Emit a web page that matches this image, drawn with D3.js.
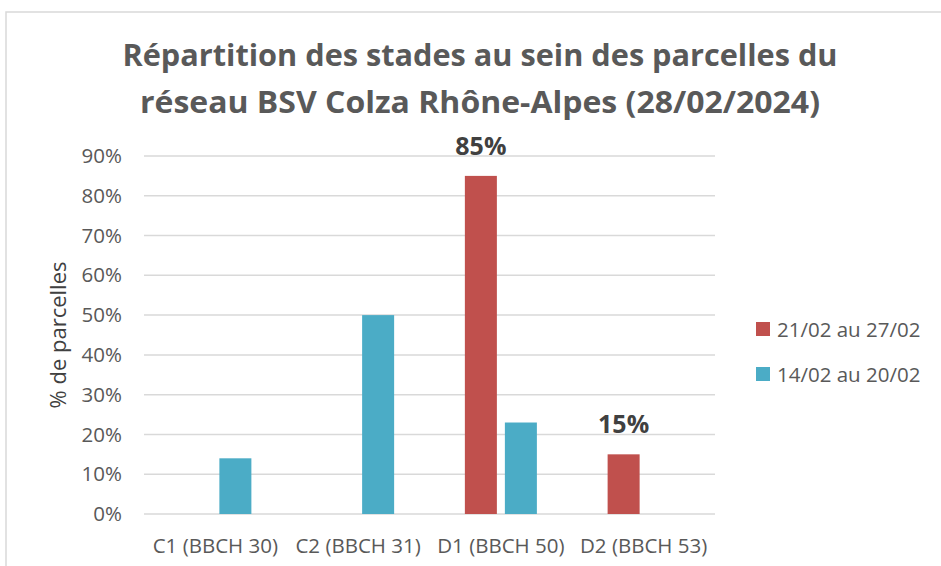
<!DOCTYPE html>
<html>
<head>
<meta charset="utf-8">
<script src="https://cdn.jsdelivr.net/npm/d3@7"></script>
<style>
  body { margin: 0; background: #fff; }
  text { font-family: "Open Sans", sans-serif; }
</style>
</head>
<body>
<div id="chart"></div>
<script>
// Data
var categories = ["C1 (BBCH 30)", "C2 (BBCH 31)", "D1 (BBCH 50)", "D2 (BBCH 53)"];
var seriesNames = ["21/02 au 27/02", "14/02 au 20/02"];
var seriesColors = ["#c0504d", "#4bacc6"];
var week2 = [null, null, 0.85, 0.15];   // 21/02 au 27/02
var week1 = [0.14, 0.50, 0.23, null];   // 14/02 au 20/02
var labelled = [false, false, true, true]; // data labels shown on the red series only
var yTicks = [0, 0.1, 0.2, 0.3, 0.4, 0.5, 0.6, 0.7, 0.8, 0.9];
var titleLines = ["Répartition des stades au sein des parcelles du",
                  "réseau BSV Colza Rhône-Alpes (28/02/2024)"];

var svgWidth = 941, svgHeight = 566;
var margin = {left: 144, right: 226, top: 156, bottom: 52};
var width = svgWidth - margin.left - margin.right,
    height = svgHeight - margin.top - margin.bottom;

var font = "'Open Sans', sans-serif";

var svg = d3.select("#chart").append("svg")
    .attr("width", svgWidth)
    .attr("height", svgHeight);

// chart frame
svg.append("rect")
    .attr("x", 6).attr("y", 12)
    .attr("width", 960).attr("height", 600)
    .attr("fill", "none")
    .attr("stroke", "#d9d9d9")
    .attr("stroke-width", 1.5);

var g = svg.append("g")
    .attr("transform", `translate(${margin.left}, ${margin.top})`);

// scales
var x0 = d3.scaleBand().domain(categories).range([0, width]);
var x1 = d3.scaleBand().domain(seriesNames).range([0, x0.bandwidth()])
    .paddingInner(0.2).paddingOuter(0.884);
var y = d3.scaleLinear().domain([0, 0.9]).range([height, 0]);

// gridlines
g.selectAll(".grid")
    .data(yTicks)
    .enter().append("line")
        .attr("x1", 0).attr("x2", width)
        .attr("y1", d => y(d)).attr("y2", d => y(d))
        .attr("stroke", "#d9d9d9")
        .attr("stroke-width", 1.5);

// y axis
var yAxis = g.append("g")
    .call(d3.axisLeft(y).tickValues(yTicks).tickFormat(d3.format(".0%")).tickSize(0).tickPadding(22));
yAxis.select(".domain").remove();
yAxis.selectAll("text")
    .attr("fill", "#595959")
    .style("font-family", font)
    .style("font-size", "20.5px");

// x axis
var xAxis = g.append("g")
    .attr("transform", `translate(0, ${height})`)
    .call(d3.axisBottom(x0).tickSize(0).tickPadding(24));
xAxis.select(".domain").remove();
xAxis.selectAll("text")
    .attr("fill", "#595959")
    .style("font-family", font)
    .style("font-size", "20.5px");

// bars
var rows = categories.map((c, i) => ({cat: c, values: [week2[i], week1[i]]}));
var groups = g.selectAll(".cat")
    .data(rows)
    .enter().append("g")
        .attr("transform", d => `translate(${x0(d.cat)}, 0)`);

groups.selectAll("rect")
    .data(d => d.values.map((v, j) => ({name: seriesNames[j], value: v, color: seriesColors[j]})).filter(e => e.value !== null))
    .enter().append("rect")
        .attr("x", d => x1(d.name))
        .attr("y", d => y(d.value))
        .attr("width", x1.bandwidth())
        .attr("height", d => y(0) - y(d.value))
        .attr("fill", d => d.color);

// data labels
groups.filter((d, i) => labelled[i])
    .append("text")
        .attr("x", x1(seriesNames[0]) + x1.bandwidth() / 2)
        .attr("y", d => y(d.values[0]) - 21)
        .attr("text-anchor", "middle")
        .style("font-size", "25px")
        .attr("font-weight", "bold")
        .attr("fill", "#404040")
        .text(d => d3.format(".0%")(d.values[0]));

// y label
svg.append("text")
    .attr("transform", "translate(66, 335) rotate(-90)")
    .attr("text-anchor", "middle")
    .style("font-size", "22px")
    .attr("fill", "#404040")
    .text("% de parcelles");

// title
svg.selectAll(".title")
    .data(titleLines)
    .enter().append("text")
        .attr("x", 480)
        .attr("y", (d, i) => 66 + i * 47)
        .attr("text-anchor", "middle")
        .style("font-size", "29.5px")
        .attr("font-weight", "bold")
        .attr("fill", "#595959")
        .attr("textLength", (d, i) => i === 0 ? 715 : 680)
        .attr("lengthAdjust", "spacingAndGlyphs")
        .text(d => d);

// legend
var legend = svg.selectAll(".legend")
    .data(seriesNames)
    .enter().append("g")
        .attr("transform", (d, i) => `translate(756, ${322 + i * 45})`);
legend.append("rect")
    .attr("width", 14).attr("height", 14)
    .attr("fill", (d, i) => seriesColors[i]);
legend.append("text")
    .attr("x", 21).attr("y", 14.5)
    .style("font-size", "20.5px")
    .attr("fill", "#595959")
    .text(d => d);
</script>
</body>
</html>
